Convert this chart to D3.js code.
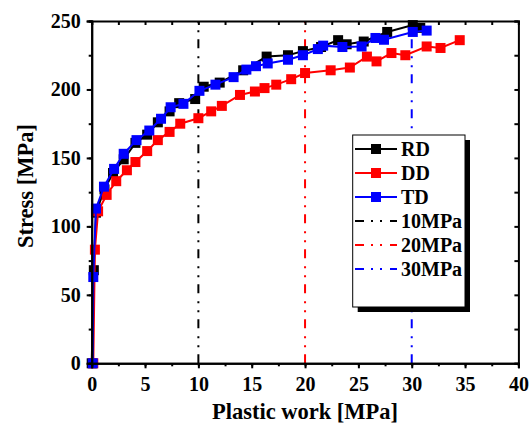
<!DOCTYPE html>
<meta charset="utf-8">
<style>
body { margin: 0; background: #fff; }
svg { display: block; }
svg text { font-family: Liberation Serif; font-weight: bold; }
.axis path, .axis line { stroke: #000; }
</style>
<svg width="530" height="428"></svg>
<script src="https://d3js.org/d3.v7.min.js"></script>
<script>

// series: [plastic work (MPa), stress (MPa)]
var rd = [
	[0, 0], [0.2, 68], [0.4, 110], [1.2, 127], [2.0, 139], [3.0, 149], [4.1, 161], [5.2, 167],
	[6.2, 176], [7.3, 184], [8.2, 190], [9.7, 193], [10.5, 202], [12.0, 205], [14.2, 214],
	[16.4, 224], [18.4, 225], [19.8, 228], [21.5, 231], [23.1, 236], [23.9, 233], [25.5, 235],
	[27.7, 242], [30.1, 247], [30.8, 245]
];
var dd = [
	[0.15, 0], [0.3, 83], [0.6, 111], [1.4, 123], [2.3, 133], [3.3, 141], [4.1, 147], [5.2, 155],
	[6.2, 163], [7.3, 169], [8.3, 175], [10.0, 179], [11.2, 184], [12.2, 188], [13.9, 196],
	[15.3, 198.5], [16.2, 201], [17.3, 203.5], [18.7, 207.5], [20.0, 212], [22.4, 214], [24.2, 216],
	[25.8, 224], [26.7, 220.5], [28.1, 226.6], [29.4, 225], [31.4, 231.4], [32.7, 230.3], [34.5, 236]
];
var td = [
	[0.1, 0], [0.15, 63], [0.4, 113], [1.15, 129], [2.1, 142], [3.0, 153], [4.2, 163], [5.4, 170],
	[6.5, 178.6], [7.4, 187], [8.6, 189.5], [10.1, 199], [11.6, 203.5], [13.3, 209], [14.5, 214.5],
	[15.4, 217], [16.5, 219], [18.4, 221.7], [19.8, 225], [21.2, 229.5], [21.7, 232], [23.5, 231],
	[25.3, 231.4], [26.6, 237.6], [27.4, 236.3], [30.1, 242], [31.4, 243]
];

var seriesNames = ["RD", "DD", "TD"];
var seriesColors = ["#000000", "#ff0000", "#0000ff"];

var refValues = [10, 20, 30];
var refNames = ["10MPa", "20MPa", "30MPa"];
var refColors = ["#000000", "#ff0000", "#0000ff"];

var xTicks = [0, 5, 10, 15, 20, 25, 30, 35, 40];
var yTicks = [0, 50, 100, 150, 200, 250];

var serif = "Liberation Serif";

var svg = d3.select("svg");

var x = d3.scaleLinear().domain([0, 40]).range([91.7, 518.4]);
var y = d3.scaleLinear().domain([0, 250]).range([363.3, 21]);

var dashPattern = "9,7,2,7,2,8";

// reference lines
svg.append("g")
  .selectAll("line")
  .data(refValues)
  .enter().append("line")
	.attr("x1", function(d) { return x(d); })
	.attr("x2", function(d) { return x(d); })
	.attr("y1", y(0))
	.attr("y2", y(250))
	.attr("stroke", function(d, i) { return refColors[i]; })
	.attr("stroke-width", 2)
	.attr("stroke-dasharray", dashPattern);

// curves
var line = d3.line()
	.x(function(d) { return x(d[0]); })
	.y(function(d) { return y(d[1]); });

var allSeries = [rd, dd, td];
var ms = 10;

allSeries.forEach(function(data, i) {
	var g = svg.append("g");
	g.append("path")
		.datum(data)
		.attr("fill", "none")
		.attr("stroke", seriesColors[i])
		.attr("stroke-width", 2)
		.attr("d", line);
	g.selectAll("rect")
	  .data(data)
	  .enter().append("rect")
		.attr("x", function(d) { return x(d[0]) - ms / 2; })
		.attr("y", function(d) { return y(d[1]) - ms / 2; })
		.attr("width", ms)
		.attr("height", ms)
		.attr("fill", seriesColors[i]);
});

// axes
var minorX = d3.range(0, 40.1, 2.5);
var minorY = d3.range(0, 250.1, 25);

function axisStyle(g) {
	g.attr("font-family", serif);
	g.select(".domain").attr("stroke-width", 2);
	g.selectAll(".tick line").attr("stroke-width", 2);
	g.selectAll("text").attr("font-size", "20px").attr("font-weight", "bold").attr("fill", "#000");
}

svg.append("g")
	.attr("class", "axis")
	.attr("transform", "translate(0," + y(0) + ")")
	.call(d3.axisBottom(x).tickValues(minorX).tickSize(3).tickFormat(""))
	.call(axisStyle);
svg.append("g")
	.attr("class", "axis")
	.attr("transform", "translate(0," + y(0) + ")")
	.call(d3.axisBottom(x).tickValues(xTicks).tickSize(5).tickPadding(9))
	.call(axisStyle);

svg.append("g")
	.attr("class", "axis")
	.attr("transform", "translate(" + x(0) + ",0)")
	.call(d3.axisLeft(y).tickValues(minorY).tickSize(3).tickFormat(""))
	.call(axisStyle);
svg.append("g")
	.attr("class", "axis")
	.attr("transform", "translate(" + x(0) + ",0)")
	.call(d3.axisLeft(y).tickValues(yTicks).tickSize(5).tickPadding(6))
	.call(axisStyle);

svg.append("g")
	.attr("class", "axis")
	.attr("transform", "translate(0," + y(250) + ")")
	.call(d3.axisBottom(x).tickValues(minorX).tickSize(4).tickFormat(""))
	.call(axisStyle);
svg.append("g")
	.attr("class", "axis")
	.attr("transform", "translate(" + x(40) + ",0)")
	.call(d3.axisLeft(y).tickValues(minorY).tickSize(4).tickFormat(""))
	.call(axisStyle);

// axis titles
svg.append("text")
	.attr("x", 305)
	.attr("y", 419)
	.attr("text-anchor", "middle")
	.attr("font-family", serif)
	.attr("font-size", "22.5px")
	.text("Plastic work [MPa]");

svg.append("text")
	.attr("transform", "translate(33,186) rotate(-90)")
	.attr("text-anchor", "middle")
	.attr("font-family", serif)
	.attr("font-size", "22.5px")
	.text("Stress [MPa]");

// legend
var lg = svg.append("g");
lg.append("rect")
	.attr("x", 357.7).attr("y", 140)
	.attr("width", 112.3).attr("height", 172)
	.attr("fill", "#000");
lg.append("rect")
	.attr("x", 352.7).attr("y", 135)
	.attr("width", 112.3).attr("height", 172)
	.attr("fill", "#fff")
	.attr("stroke", "#000")
	.attr("stroke-width", 1);

var legendItems = seriesNames.map(function(n, i) { return {name: n, color: seriesColors[i], marker: true}; })
	.concat(refNames.map(function(n, i) { return {name: n, color: refColors[i], marker: false}; }));

var item = lg.selectAll(".item")
  .data(legendItems)
  .enter().append("g")
	.attr("class", "item")
	.attr("transform", function(d, i) { return "translate(0," + (149 + i * 24) + ")"; });

item.append("line")
	.attr("x1", 355).attr("x2", 397)
	.attr("stroke", function(d) { return d.color; })
	.attr("stroke-width", 2)
	.attr("stroke-dasharray", function(d) { return d.marker ? null : dashPattern; });

item.filter(function(d) { return d.marker; })
  .append("rect")
	.attr("x", 376 - ms / 2).attr("y", -ms / 2)
	.attr("width", ms).attr("height", ms)
	.attr("fill", function(d) { return d.color; });

item.append("text")
	.attr("x", 401)
	.attr("dy", "0.35em")
	.attr("font-family", serif)
	.attr("font-size", "20px")
	.text(function(d) { return d.name; });

</script>
